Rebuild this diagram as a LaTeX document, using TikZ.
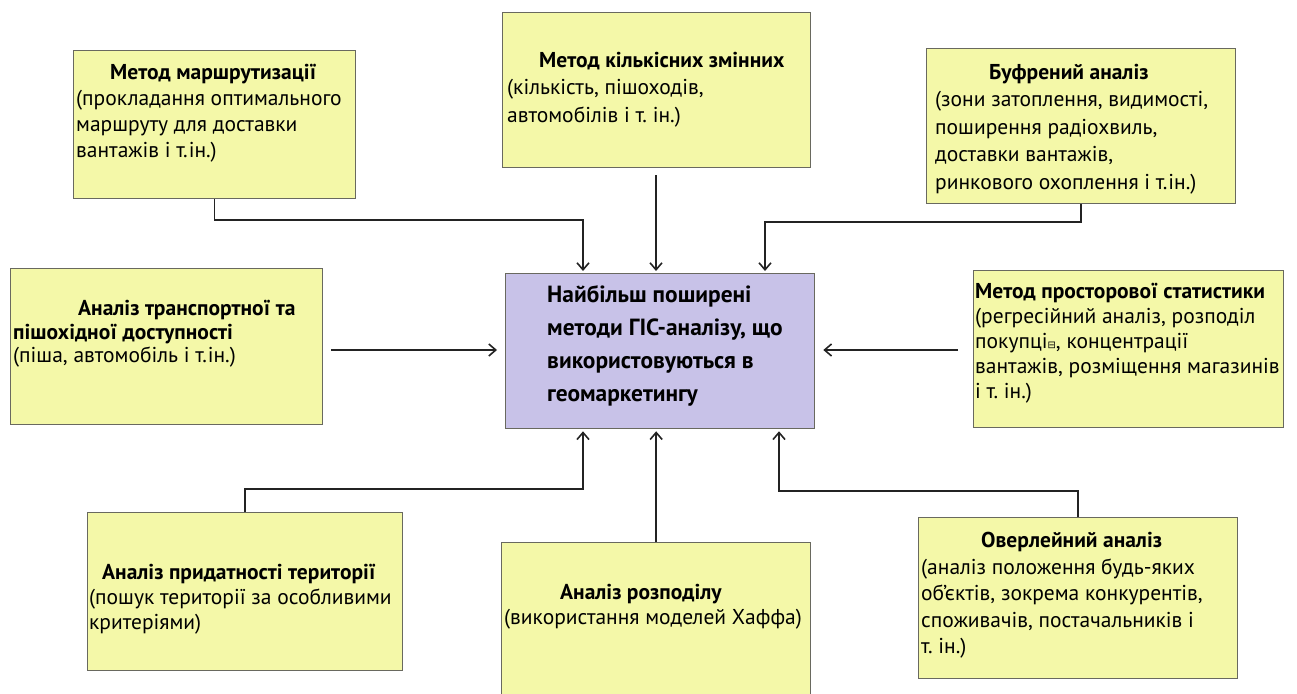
\documentclass[tikz,border=0pt]{standalone}
\usepackage{fontspec}
\setmainfont{PT Sans}
\newfontfamily\symfont{DejaVu Sans}
\usetikzlibrary{arrows.meta}
\definecolor{boxyellow}{RGB}{244,248,168}
\definecolor{boxviolet}{RGB}{200,194,232}
\definecolor{edgegray}{RGB}{105,105,95}
\definecolor{linegray}{RGB}{35,35,35}
\frenchspacing
\begin{document}
\begin{tikzpicture}[x=1pt,y=-1pt,
  box/.style={draw=edgegray, line width=1.3pt, fill=boxyellow, anchor=north west, inner sep=0pt},
  cbox/.style={box, fill=boxviolet},
  txt/.style={anchor=north west, align=left, inner sep=0pt, text=black},
  conn/.style={draw=linegray, line width=1.6pt},
  arr/.style={conn, -{Straight Barb[length=7pt,width=12pt,line width=1.6pt]}, shorten >=2pt}]
\useasboundingbox (0,0) rectangle (1297,693);

% boxes
\node[box, minimum width=282pt, minimum height=148pt] (b1) at (73,50) {};
\node[box, minimum width=308pt, minimum height=155pt] (b2) at (502,12) {};
\node[box, minimum width=309pt, minimum height=155pt] (b3) at (926,48) {};
\node[box, minimum width=312pt, minimum height=156pt] (b4) at (10,268) {};
\node[cbox, minimum width=309pt, minimum height=155pt] (c) at (505,273) {};
\node[box, minimum width=310pt, minimum height=157pt] (b6) at (973,270) {};
\node[box, minimum width=315pt, minimum height=158pt] (b7) at (87,512) {};
\node[box, minimum width=309pt, minimum height=165pt] (b8) at (501,542) {};
\node[box, minimum width=319pt, minimum height=161pt] (b9) at (918,517) {};

% texts
\node[txt, font=\fontsize{21.5}{26}\selectfont] (t1) at (76,64)
  {\hspace*{34pt}\textbf{Метод маршрутизації}\\(прокладання оптимального\\маршруту для доставки\\вантажів і т.ін.)};
\node[txt, font=\fontsize{21.5}{27.5}\selectfont] (t2) at (507,52)
  {\hspace*{32pt}\textbf{Метод кількісних змінних}\\(кількість, пішоходів,\\автомобілів і т. ін.)};
\node[txt, font=\fontsize{21.5}{27.5}\selectfont] (t3) at (935,64)
  {\hspace*{54pt}\textbf{Буфрений аналіз}\\(зони затоплення, видимості,\\поширення радіохвиль,\\доставки вантажів,\\ринкового охоплення і т.ін.)};
\node[txt, font=\fontsize{21.5}{23.5}\selectfont] (t4) at (13,300)
  {\hspace*{65pt}\textbf{Аналіз транспортної та}\\\textbf{пішохідної доступності}\\(піша, автомобіль і т.ін.)};
\node[txt, font=\bfseries\fontsize{23.4}{33}\selectfont] (tc) at (547,285)
  {Найбільш поширені\\методи ГІС-аналізу, що\\використовуються в\\геомаркетингу};
\node[txt, font=\fontsize{21.5}{25}\selectfont] (t6) at (975,283)
  {\textbf{Метод просторової статистики}\\(регресійний аналіз, розподіл\\покупці{\symfont\fontsize{10}{10}\selectfont ⊟}, концентрації\\вантажів, розміщення магазинів\\і т. ін.)};
\node[txt, font=\fontsize{21.5}{25}\selectfont] (t7) at (89,564)
  {\hspace*{13pt}\textbf{Аналіз придатності території}\\(пошук території за особливими\\критеріями)};
\node[txt, font=\fontsize{21.5}{25}\selectfont] (t8) at (504,584)
  {\hspace*{56pt}\textbf{Аналіз розподілу}\\(використання моделей Хаффа)};
\node[txt, font=\fontsize{21.5}{26.5}\selectfont] (t9) at (921,532)
  {\hspace*{60pt}\textbf{Оверлейний аналіз}\\(аналіз положення будь-яких\\об'єктів, зокрема конкурентів,\\споживачів, постачальників і\\т. ін.)};

% bend points
\coordinate (k1) at (583,220);
\coordinate (k3) at (765,222);
\coordinate (k7) at (583,489);
\coordinate (k9) at (779,491);
\coordinate (s2) at (656,175);
\coordinate (s4) at (331,350);
\coordinate (s6) at (958,350);

% connectors
\draw[arr] (b1.south) |- (k1) -- (k1 |- c.north);
\draw[arr] (s2) -- (s2 |- c.north);
\draw[arr] (b3.south) |- (k3) -- (k3 |- c.north);
\draw[arr, shorten >=8pt] (s4) -- (s4 -| c.west);
\draw[arr, shorten >=8pt] (s6) -- (s6 -| c.east);
\draw[arr] (b7.north) |- (k7) -- (k7 |- c.south);
\draw[arr] (b8.north) -- (b8.north |- c.south);
\draw[arr] (b9.north) |- (k9) -- (k9 |- c.south);
\end{tikzpicture}
\end{document}
